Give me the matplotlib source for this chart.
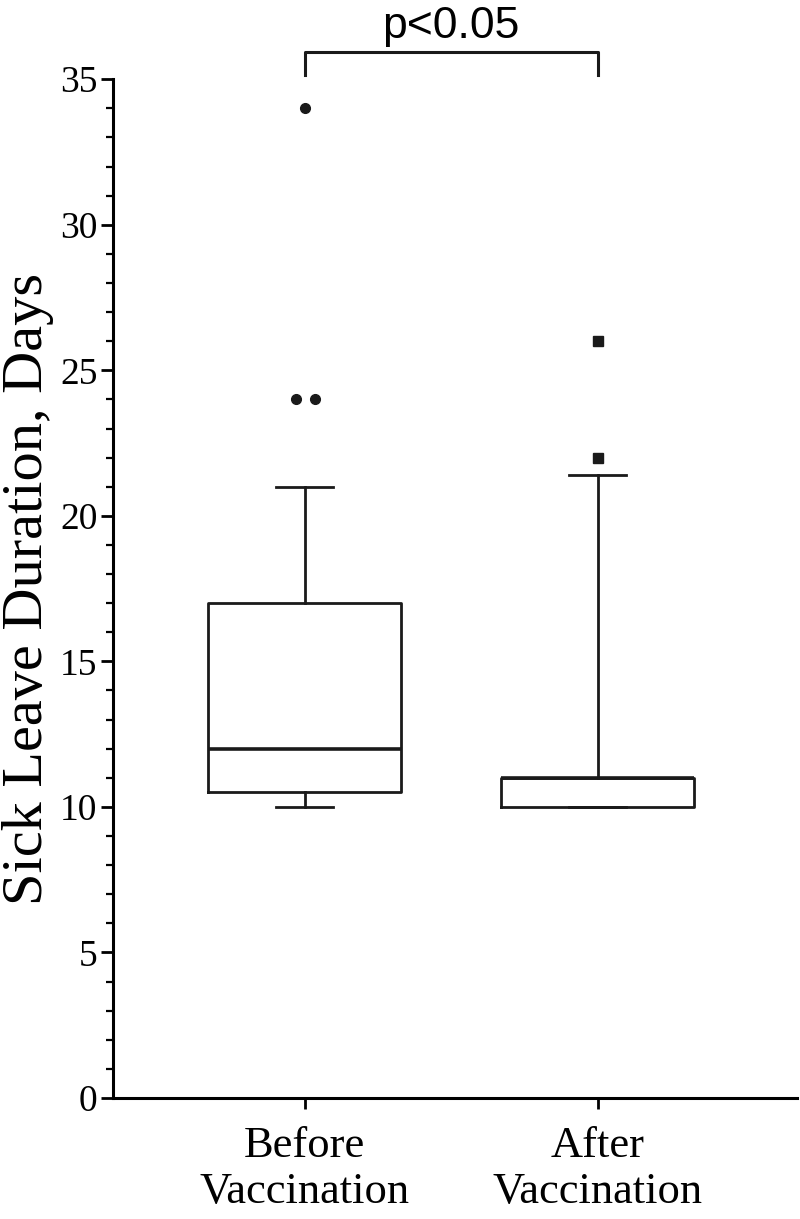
import matplotlib
matplotlib.use("Agg")
from matplotlib import pyplot as plt
from matplotlib.ticker import MultipleLocator

# Box plot summary values (days)
groups = ["Before\nVaccination", "After\nVaccination"]
q1 = [10.5, 10.0]
median = [12.0, 11.0]
q3 = [17.0, 11.0]
whis_lo = [10.0, 10.0]
whis_hi = [21.0, 21.4]
outliers = [[34, 24, 24], [26, 22]]
outlier_shift = [[0.0, -0.03, 0.035], [0.0, 0.0]]
outlier_marker = ["o", "s"]

plt.rcParams["font.family"] = ["Liberation Serif", "DejaVu Serif"]

fig = plt.figure(figsize=(8, 12.19), dpi=100)
ax = fig.add_axes([0.141, 0.0993, 0.855, 0.8357])

stats = []
for i, name in enumerate(groups):
    stats.append({"label": name, "q1": q1[i], "med": median[i], "q3": q3[i],
                  "whislo": whis_lo[i], "whishi": whis_hi[i], "fliers": []})

lw = 2.0
ax.bxp(stats, positions=[0, 1], widths=0.66, capwidths=0.194, showfliers=False,
       boxprops=dict(color="#1a1a1a", linewidth=lw),
       medianprops=dict(color="#1a1a1a", linewidth=lw + 0.6),
       whiskerprops=dict(color="#1a1a1a", linewidth=lw),
       capprops=dict(color="#1a1a1a", linewidth=lw))

for i, pts in enumerate(outliers):
    xs = [i + d for d in outlier_shift[i]]
    ax.plot(xs, pts, ls="none", marker=outlier_marker[i], color="#1a1a1a",
            markersize=7 if outlier_marker[i] == "o" else 6.5)

ax.set_xlim(-0.655, 1.68)
ax.set_ylim(0, 35)
ax.yaxis.set_major_locator(MultipleLocator(5))
ax.yaxis.set_minor_locator(MultipleLocator(1))
ax.set_xticks([0, 1])
ax.set_xticklabels(groups, fontsize=32, linespacing=1.2)
ax.tick_params(axis="y", labelsize=27, width=2, length=9, pad=2)
ax.tick_params(axis="y", which="minor", width=1.6, length=5)
ax.tick_params(axis="x", width=2, length=8, pad=12)
for s in ["top", "right"]:
    ax.spines[s].set_visible(False)
for s in ["left", "bottom"]:
    ax.spines[s].set_linewidth(2.2)
ax.set_ylabel("Sick Leave Duration, Days", fontsize=42, labelpad=4)

# significance bracket
yb = 35.93
ax.plot([0, 0, 1, 1], [35.15, yb, yb, 35.15], color="#1a1a1a", lw=2.2, clip_on=False)
ax.text(0.5, 36.42, "p<0.05", ha="center", va="baseline", fontsize=32,
        family=["Liberation Sans", "DejaVu Sans"])

fig.savefig("out.png", dpi=100)
